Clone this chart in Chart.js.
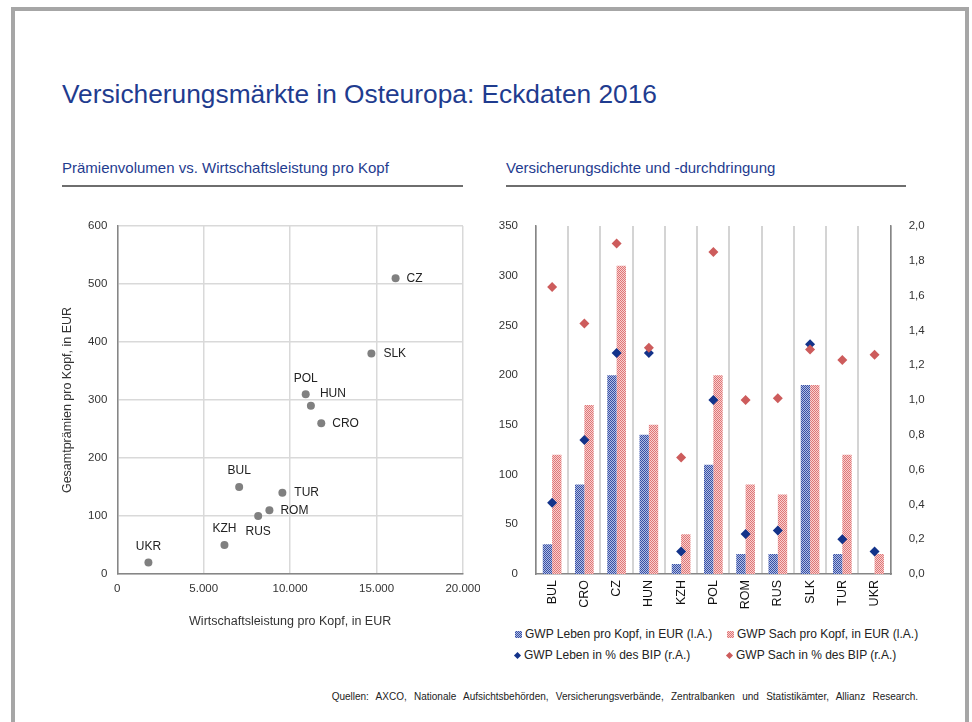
<!DOCTYPE html>
<html lang="de">
<head>
<meta charset="UTF-8">
<title>Versicherungsmärkte in Osteuropa</title>
<script src="https://cdn.jsdelivr.net/npm/chart.js"></script>
<style>
  body { margin: 0; width: 972px; height: 722px; background: #fff; position: relative; overflow: hidden;
         font-family: "Liberation Sans", Arial, sans-serif; }
  .frame { position: absolute; left: 11px; top: 7px; width: 950px; height: 760px;
           border: 4px solid #a6a6a6; border-bottom: none; }
  .abs { position: absolute; white-space: nowrap; line-height: 1; }
  .title { left: 62px; top: 81px; font-size: 26.3px; color: #1f3c8f; }
  .sub { top: 160px; font-size: 15px; color: #1f3c8f; }
  .rule { position: absolute; top: 185px; height: 2px; background: #6e6e6e; }
  .legend { font-size: 12px; color: #222; }
  .mark { display: inline-block; width: 7px; height: 7px; margin-right: 3px; vertical-align: -0px; }
  .dia { display: inline-block; width: 5px; height: 5px; margin: 0 4px 1px 2px; transform: rotate(45deg); }
  .foot { right: 54px; top: 692px; font-size: 10px; color: #222; word-spacing: 4.5px; }
  canvas { position: absolute; }
</style>
</head>
<body>
<div class="frame"></div>
<div class="abs title">Versicherungsmärkte in Osteuropa: Eckdaten 2016</div>
<div class="abs sub" style="left:62px">Prämienvolumen vs. Wirtschaftsleistung pro Kopf</div>
<div class="rule" style="left:62px; width:401px"></div>
<div class="abs sub" style="left:506px">Versicherungsdichte und -durchdringung</div>
<div class="rule" style="left:506px; width:400px"></div>

<div id="scatterBox" style="position:absolute; left:40px; top:210px; width:440px; height:430px">
  <canvas id="streu"></canvas>
</div>
<div id="barBox" style="position:absolute; left:490px; top:210px; width:470px; height:410px">
  <canvas id="balken"></canvas>
</div>

<div id="leg1" class="abs legend" style="left:515px; top:628px"></div>
<div id="leg2" class="abs legend" style="left:727px; top:628px"></div>
<div id="leg3" class="abs legend" style="left:513px; top:649px"></div>
<div id="leg4" class="abs legend" style="left:725px; top:649px"></div>

<div class="abs foot">Quellen: AXCO, Nationale Aufsichtsbehörden, Versicherungsverbände, Zentralbanken und Statistikämter, Allianz Research.</div>

<script>
    // Streudiagramm
    const marktNamen = ['CZ', 'SLK', 'POL', 'HUN', 'CRO', 'BUL', 'TUR', 'ROM', 'RUS', 'KZH', 'UKR'];
    const bipProKopf = [16100, 14700, 10900, 11200, 11800, 7050, 9550, 8800, 8150, 6200, 1800];
    const praemieProKopf = [510, 380, 310, 290, 260, 150, 140, 110, 100, 50, 20];

    // Balkendiagramm
    const laender = ['BUL', 'CRO', 'CZ', 'HUN', 'KZH', 'POL', 'ROM', 'RUS', 'SLK', 'TUR', 'UKR'];
    const lebenProKopf = [30, 90, 200, 140, 10, 110, 20, 20, 190, 20, 0];
    const sachProKopf = [120, 170, 310, 150, 40, 200, 90, 80, 190, 120, 20];
    const lebenBip = [0.41, 0.77, 1.27, 1.27, 0.13, 1.00, 0.23, 0.25, 1.32, 0.20, 0.13];
    const sachBip = [1.65, 1.44, 1.90, 1.30, 0.67, 1.85, 1.00, 1.01, 1.29, 1.23, 1.26];

    const xTicksStreu = [0, 5000, 10000, 15000, 20000];

    const FONT = '"Liberation Sans", Arial, sans-serif';
    Chart.defaults.font.family = FONT;
    Chart.defaults.color = '#333';
    Chart.defaults.animation = false;

    function tausender(v) {
        return String(v).replace(/\B(?=(\d{3})+(?!\d))/g, '.');
    }

    function muster(dunkel, hell) {
        const c = document.createElement('canvas');
        c.width = 2; c.height = 2;
        const g = c.getContext('2d');
        g.fillStyle = hell; g.fillRect(0, 0, 2, 2);
        g.fillStyle = dunkel; g.fillRect(0, 0, 1, 1); g.fillRect(1, 1, 1, 1);
        return g.createPattern(c, 'repeat');
    }

    // fixed axis boxes, no extra label padding
    function festBreite(w) {
        return s => { s.width = w; s.paddingTop = 0; s.paddingBottom = 0; };
    }
    function festHoehe(h) {
        return s => { s.height = h; s.paddingLeft = 0; s.paddingRight = 0; };
    }

    // where each scatter label sits relative to its point
    const labelLage = {
        CZ: [11, 0, 'left'], SLK: [12, 0, 'left'], POL: [0, -16, 'center'], HUN: [9, -12, 'left'],
        CRO: [11, 0, 'left'], BUL: [0, -16, 'center'], TUR: [12, 0, 'left'], ROM: [11, 0, 'left'],
        RUS: [0, 16, 'center'], KZH: [0, -16, 'center'], UKR: [0, -16, 'center']
    };

    const punktLabels = {
        id: 'punktLabels',
        afterDatasetsDraw(chart) {
            const ctx = chart.ctx;
            const meta = chart.getDatasetMeta(0);
            ctx.save();
            ctx.font = '12px ' + FONT;
            ctx.fillStyle = '#222';
            ctx.textBaseline = 'middle';
            meta.data.forEach((pt, i) => {
                const name = marktNamen[i];
                const l = labelLage[name];
                ctx.textAlign = l[2];
                ctx.fillText(name, pt.x + l[0], pt.y + l[1]);
            });
            ctx.restore();
        }
    };

    new Chart(document.getElementById('streu'), {
        type: 'scatter',
        data: {
            datasets: [{
                label: 'Märkte',
                data: bipProKopf.map((x, i) => ({ x: x, y: praemieProKopf[i] })),
                backgroundColor: '#808080',
                borderWidth: 0,
                pointRadius: 4
            }]
        },
        options: {
            responsive: true,
            maintainAspectRatio: false,
            layout: { padding: { top: 16, right: 17, left: 0, bottom: 0 } },
            plugins: { legend: { display: false }, tooltip: { enabled: false } },
            scales: {
                x: {
                    min: 0, max: 20000,
                    afterBuildTicks: s => { s.ticks = xTicksStreu.map(v => ({ value: v })); },
                    afterFit: festHoehe(66),
                    grid: { color: '#d9d9d9', lineWidth: 1.5, drawTicks: false },
                    border: { color: '#868686', width: 1.5 },
                    ticks: { font: { size: 11.5 }, padding: 8, maxRotation: 0, callback: v => tausender(v) },
                    title: { display: true, text: 'Wirtschaftsleistung pro Kopf, in EUR',
                             font: { size: 12.5 }, padding: { top: 0, bottom: 11 }, color: '#333' }
                },
                y: {
                    min: 0, max: 600,
                    afterFit: festBreite(77.3),
                    grid: { color: '#d9d9d9', lineWidth: 1.5, drawTicks: false },
                    border: { color: '#868686', width: 1.5 },
                    ticks: { stepSize: 100, font: { size: 11.5 }, padding: 10 },
                    title: { display: true, text: 'Gesamtprämien pro Kopf, in EUR',
                             font: { size: 12.5 }, padding: { top: 20.5, bottom: 0 }, color: '#333' }
                }
            }
        },
        plugins: [punktLabels]
    });

    const blauMuster = muster('#3650a6', '#b3bde2');
    const rotMuster = muster('#df7676', '#f8d0d0');
    const blauRaute = '#13338a';
    const rotRaute = '#cd5c5c';

    const serien = [
        { label: 'GWP Leben pro Kopf, in EUR (l.A.)', type: 'bar', data: lebenProKopf, backgroundColor: blauMuster, yAxisID: 'y', order: 3 },
        { label: 'GWP Sach pro Kopf, in EUR (l.A.)', type: 'bar', data: sachProKopf, backgroundColor: rotMuster, yAxisID: 'y', order: 3 },
        { label: 'GWP Leben in % des BIP (r.A.)', type: 'line', data: lebenBip, backgroundColor: blauRaute, yAxisID: 'y1', order: 2 },
        { label: 'GWP Sach in % des BIP (r.A.)', type: 'line', data: sachBip, backgroundColor: rotRaute, yAxisID: 'y1', order: 1 }
    ];
    serien.forEach(s => {
        if (s.type === 'bar') {
            s.categoryPercentage = 0.58;
            s.barPercentage = 1.0;
            s.borderWidth = 0;
        } else {
            s.showLine = false;
            s.pointStyle = 'rectRot';
            s.pointRadius = 5;
            s.borderWidth = 0;
            s.borderColor = s.backgroundColor;
        }
    });

    new Chart(document.getElementById('balken'), {
        data: { labels: laender, datasets: serien },
        options: {
            responsive: true,
            maintainAspectRatio: false,
            layout: { padding: { top: 16, right: 0, left: 0, bottom: 0 } },
            plugins: { legend: { display: false }, tooltip: { enabled: false } },
            scales: {
                x: {
                    afterFit: festHoehe(46),
                    grid: { color: '#d4d4d4', lineWidth: 2, drawTicks: false, offset: true },
                    border: { color: '#868686', width: 1.5 },
                    ticks: { font: { size: 12.5 }, color: '#111', padding: 6, minRotation: 90, maxRotation: 90 }
                },
                y: {
                    position: 'left', min: 0, max: 350,
                    afterFit: festBreite(46),
                    grid: { display: false },
                    border: { color: '#868686', width: 1.5 },
                    ticks: { stepSize: 50, font: { size: 11.5 }, padding: 10 }
                },
                y1: {
                    position: 'right', min: 0, max: 2,
                    afterFit: festBreite(69.3),
                    grid: { display: false },
                    border: { color: '#868686', width: 1.5 },
                    ticks: { stepSize: 0.2, font: { size: 11.5 }, padding: 10,
                             callback: v => v.toFixed(1).replace('.', ',') }
                }
            }
        }
    });

    // Legende
    const legendeIds = ['leg1', 'leg2', 'leg3', 'leg4'];
    const legendeFarben = ['repeating-conic-gradient(#3650a6 0 25%, #b3bde2 0 50%) 0 0/2px 2px',
                           'repeating-conic-gradient(#df7676 0 25%, #f8d0d0 0 50%) 0 0/2px 2px',
                           blauRaute, rotRaute];
    serien.forEach((s, i) => {
        const el = document.getElementById(legendeIds[i]);
        const m = document.createElement('span');
        m.className = s.type === 'bar' ? 'mark' : 'dia';
        m.style.background = legendeFarben[i];
        el.appendChild(m);
        el.appendChild(document.createTextNode(s.label));
    });
</script>
</body>
</html>
